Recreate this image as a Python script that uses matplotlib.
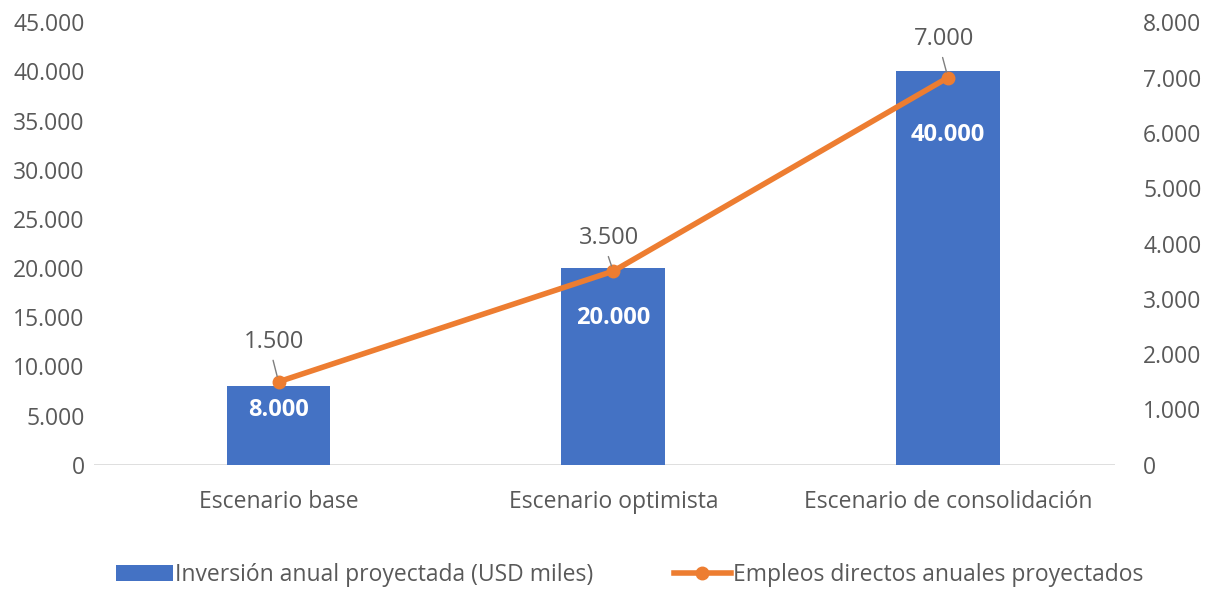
import numpy as np
import matplotlib.pyplot as plt
from matplotlib.ticker import FuncFormatter

plt.rcParams['font.family'] = ['Open Sans', 'DejaVu Sans']

categorias = ["Escenario base", "Escenario optimista", "Escenario de consolidación"]
inversion = [8000, 20000, 40000]
empleos = [1500, 3500, 7000]
serie_barras = "Inversión anual proyectada (USD miles)"
serie_linea = "Empleos directos anuales proyectados"

azul = '#4472C4'
naranja = '#ED7D31'
gris = '#595959'


def miles(v, pos=None):
    return f"{int(v):,}".replace(",", ".")


fig = plt.figure(figsize=(12.11, 6.02), dpi=100)
ax = fig.add_axes([0.078, 0.228, 0.843, 0.735])
ax2 = ax.twinx()

x = np.arange(len(categorias))
barras = ax.bar(x, inversion, width=0.31, color=azul, label=serie_barras, zorder=2)
linea, = ax2.plot(x, empleos, color=naranja, lw=4, marker='o', ms=9,
                  label=serie_linea, zorder=3)

ax.set_xlim(-0.55, 2.5)
ax.set_ylim(0, 45000)
ax.set_yticks(np.arange(0, 45001, 5000))
ax2.set_ylim(0, 8000)
ax2.set_yticks(np.arange(0, 8001, 1000))
ax.yaxis.set_major_formatter(FuncFormatter(miles))
ax2.yaxis.set_major_formatter(FuncFormatter(miles))

ax.set_xticks(x)
ax.set_xticklabels(categorias)

for a in (ax, ax2):
    for s in ('top', 'right', 'left', 'bottom'):
        a.spines[s].set_visible(False)
    a.tick_params(length=0, labelsize=16.5, colors=gris)
ax.tick_params(axis='x', pad=18)
ax.tick_params(axis='y', pad=7)
ax2.tick_params(axis='y', pad=20)
ax.axhline(0, color='#D9D9D9', lw=1.2, zorder=1)

# etiquetas de barras (dentro, parte superior)
bajada = [-17, -36, -46]
for xi, v, d in zip(x, inversion, bajada):
    ax.annotate(miles(v), xy=(xi, v), xytext=(0, d), textcoords='offset points',
                ha='center', va='center', color='white', fontsize=17,
                fontweight='bold', zorder=4)

# etiquetas de línea
subida = [29, 24, 28]
for xi, v, d in zip(x, empleos, subida):
    ax2.annotate(miles(v), xy=(xi, v), xytext=(-3, d), textcoords='offset points',
                 ha='center', va='center', fontsize=17, color=gris,
                 arrowprops=dict(arrowstyle='-', color='#7F7F7F', lw=1,
                                 relpos=(0.45, 0), shrinkA=3, shrinkB=4),
                 zorder=5)

fig.legend([barras, linea], [serie_barras, serie_linea], loc='lower center',
           bbox_to_anchor=(0.52, -0.01), ncol=2, frameon=False, fontsize=16.5,
           labelcolor=gris, handlelength=2.5, handletextpad=0.1, columnspacing=3.5)

fig.savefig('out.png', dpi=100)
